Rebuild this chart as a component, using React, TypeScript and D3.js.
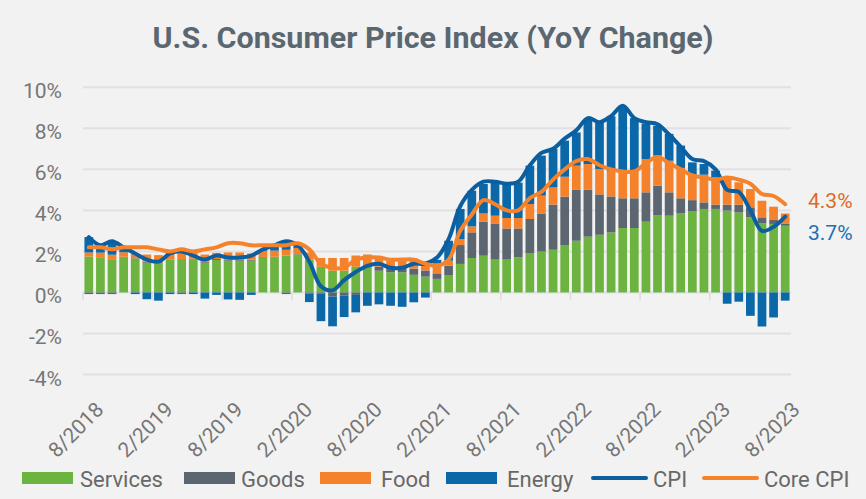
import * as d3 from "d3";
import React, {useRef, useEffect} from "react";

// monthly categories, 8/2018 .. 8/2023
const months = [
    "8/2018", "9/2018", "10/2018", "11/2018", "12/2018",
    "1/2019", "2/2019", "3/2019", "4/2019", "5/2019", "6/2019", "7/2019", "8/2019", "9/2019", "10/2019", "11/2019", "12/2019",
    "1/2020", "2/2020", "3/2020", "4/2020", "5/2020", "6/2020", "7/2020", "8/2020", "9/2020", "10/2020", "11/2020", "12/2020",
    "1/2021", "2/2021", "3/2021", "4/2021", "5/2021", "6/2021", "7/2021", "8/2021", "9/2021", "10/2021", "11/2021", "12/2021",
    "1/2022", "2/2022", "3/2022", "4/2022", "5/2022", "6/2022", "7/2022", "8/2022", "9/2022", "10/2022", "11/2022", "12/2022",
    "1/2023", "2/2023", "3/2023", "4/2023", "5/2023", "6/2023", "7/2023", "8/2023"
];

const tickLabels = ["8/2018", "2/2019", "8/2019", "2/2020", "8/2020", "2/2021", "8/2021", "2/2022", "8/2022", "2/2023", "8/2023"];

// contributions to YoY change (percentage points)
const services = [
    1.75, 1.72, 1.62, 1.72, 1.65,
    1.45, 1.42, 1.58, 1.63, 1.62, 1.45, 1.58, 1.55, 1.55, 1.55, 1.70, 1.72,
    1.80, 1.85, 1.60, 1.25, 1.06, 1.06, 1.25, 1.25, 1.06, 0.98, 0.98, 0.86,
    0.77, 0.66, 0.85, 1.39, 1.68, 1.79, 1.60, 1.60, 1.71, 1.90, 1.99, 2.08,
    2.31, 2.52, 2.72, 2.81, 2.93, 3.14, 3.14, 3.45, 3.77, 3.74, 3.85, 3.95,
    4.07, 4.07, 3.99, 3.90, 3.66, 3.37, 3.34, 3.25
];
const goods = [
    -0.08, -0.08, -0.08, 0.02, 0.02,
    0.05, 0.05, 0.02, -0.08, 0.02, 0.05, 0.05, 0.05, 0.05, 0.05, 0.03, 0.02,
    -0.08, 0.02, -0.05, -0.05, -0.20, -0.15, -0.12, 0.00, 0.20, 0.16, 0.20, 0.30,
    0.30, 0.27, 0.45, 0.92, 1.25, 1.66, 1.74, 1.52, 1.41, 1.68, 1.86, 2.20,
    2.36, 2.48, 2.28, 1.97, 1.75, 1.45, 1.45, 1.43, 1.43, 1.14, 0.74, 0.55,
    0.32, 0.21, 0.29, 0.38, 0.49, 0.29, 0.19, 0.09
];
const food = [
    0.20, 0.22, 0.22, 0.22, 0.22,
    0.35, 0.35, 0.30, 0.30, 0.28, 0.35, 0.30, 0.35, 0.35, 0.30, 0.30, 0.30,
    0.28, 0.30, 0.35, 0.43, 0.62, 0.62, 0.55, 0.60, 0.42, 0.52, 0.50, 0.50,
    0.45, 0.48, 0.25, 0.29, 0.29, 0.40, 0.40, 0.51, 0.51, 0.73, 0.87, 0.84,
    0.97, 1.18, 1.26, 1.24, 1.26, 1.38, 1.38, 1.62, 1.47, 1.54, 1.48, 1.24,
    1.35, 1.33, 1.25, 1.09, 0.89, 0.81, 0.65, 0.51
];
const energy = [
    0.75, 0.36, 0.66, 0.24, -0.08,
    -0.33, -0.40, -0.08, 0.13, -0.08, -0.30, -0.12, -0.34, -0.36, -0.12, 0.05, 0.25,
    0.45, 0.20, -0.42, -1.35, -1.45, -1.05, -0.85, -0.65, -0.58, -0.65, -0.70, -0.48,
    -0.25, 0.18, 0.97, 1.47, 1.74, 1.44, 1.66, 1.66, 1.72, 1.87, 1.95, 1.88,
    1.76, 1.62, 2.15, 2.32, 2.65, 3.05, 2.53, 1.74, 1.46, 1.31, 1.09, 0.60,
    0.52, 0.33, -0.55, -0.45, -1.14, -1.66, -1.22, -0.40
];
const cpi = [
    2.7, 2.3, 2.5, 2.2, 1.9,
    1.6, 1.5, 1.9, 2.0, 1.8, 1.6, 1.8, 1.7, 1.7, 1.8, 2.1, 2.3,
    2.5, 2.3, 1.5, 0.3, 0.1, 0.6, 1.0, 1.3, 1.4, 1.2, 1.2, 1.4,
    1.4, 1.7, 2.6, 4.2, 5.0, 5.4, 5.4, 5.3, 5.4, 6.2, 6.8, 7.0,
    7.5, 7.9, 8.5, 8.3, 8.6, 9.1, 8.5, 8.3, 8.2, 7.7, 7.1, 6.5,
    6.4, 6.0, 5.0, 4.9, 4.0, 3.0, 3.2, 3.7
];
const coreCpi = [
    2.2, 2.2, 2.1, 2.2, 2.2,
    2.2, 2.1, 2.0, 2.1, 2.0, 2.1, 2.2, 2.4, 2.4, 2.3, 2.3, 2.3,
    2.3, 2.4, 2.1, 1.4, 1.2, 1.2, 1.6, 1.7, 1.7, 1.6, 1.6, 1.6,
    1.4, 1.3, 1.6, 3.0, 3.8, 4.5, 4.3, 4.0, 4.0, 4.6, 4.9, 5.5,
    6.0, 6.4, 6.5, 6.2, 6.0, 5.9, 5.9, 6.3, 6.6, 6.3, 6.0, 5.7,
    5.6, 5.5, 5.6, 5.5, 5.3, 4.8, 4.7, 4.3
];

const yTicks = [-4, -2, 0, 2, 4, 6, 8, 10];
const seriesKeys = ["services", "goods", "food", "energy"];
const seriesNames = ["Services", "Goods", "Food", "Energy"];
const seriesColors = ["#6DB33F", "#5C6670", "#F5822A", "#0A67A8"];

const W = 866;
const H = 499;
const FONT = "Roboto, 'DejaVu Sans', sans-serif";
const LABEL = "#767676";

function CpiChart() {

    const ref = useRef<HTMLDivElement>(null);

    useEffect(() => {

        document.body.style.margin = "0";
        document.body.style.background = "#F2F2F2";

        const container = d3.select(ref.current);
        container.selectAll("*").remove();

        const svg = container.append("svg")
            .attr("width", W)
            .attr("height", H)
            .style("display", "block")
            .style("background", "#F2F2F2");

        const x = d3.scaleBand<string>()
            .domain(months)
            .range([83, 791])
            .paddingInner(0.25)
            .paddingOuter(0.125);

        const y = d3.scaleLinear()
            .domain([-4, 10])
            .range([374.5, 87.3]);

        const cx = (m: string) => (x(m) as number) + x.bandwidth() / 2;

        // title
        svg.append("text")
            .attr("x", W / 2)
            .attr("y", 48)
            .attr("text-anchor", "middle")
            .attr("font-family", FONT)
            .attr("font-weight", "bold")
            .attr("font-size", 30)
            .attr("fill", "#5B6770")
            .attr("textLength", 561)
            .attr("lengthAdjust", "spacingAndGlyphs")
            .text("U.S. Consumer Price Index (YoY Change)");

        // grid
        svg.append("g")
            .selectAll("line")
            .data(yTicks)
            .enter()
            .append("line")
            .attr("x1", 83)
            .attr("x2", 791)
            .attr("y1", d => y(d))
            .attr("y2", d => y(d))
            .attr("stroke", "#E0E0E6")
            .attr("stroke-width", 2);

        svg.append("g")
            .selectAll("text")
            .data(yTicks)
            .enter()
            .append("text")
            .attr("x", 62)
            .attr("y", d => y(d) + 11)
            .attr("text-anchor", "end")
            .attr("font-family", FONT)
            .attr("font-size", 21)
            .attr("fill", LABEL)
            .text(d => d + "%");

        // stacked bars
        const rows = months.map((m, i) => ({
            month: m,
            services: services[i],
            goods: goods[i],
            food: food[i],
            energy: energy[i],
        }));

        const stack = d3.stack<any>()
            .keys(seriesKeys)
            .offset(d3.stackOffsetDiverging);

        svg.append("g")
            .selectAll("g")
            .data(stack(rows))
            .enter()
            .append("g")
            .attr("fill", (d, i) => seriesColors[i])
            .selectAll("rect")
            .data(d => d)
            .enter()
            .append("rect")
            .attr("x", d => x(d.data.month) as number)
            .attr("width", x.bandwidth())
            .attr("y", d => y(Math.max(d[0], d[1])))
            .attr("height", d => Math.abs(y(d[0]) - y(d[1])));

        // category ticks every 6 months
        const step = x.step();
        svg.append("g")
            .selectAll("line")
            .data(tickLabels)
            .enter()
            .append("line")
            .attr("x1", d => cx(d) - step / 2)
            .attr("x2", d => cx(d) - step / 2)
            .attr("y1", y(0))
            .attr("y2", y(0) + 8)
            .attr("stroke", "#DCDCDC")
            .attr("stroke-width", 1.5);

        // lines
        const line = (vals: number[]) => d3.line<string>()
            .x(d => cx(d))
            .y((d, i) => y(vals[i]))
            .curve(d3.curveCatmullRom.alpha(0.5))(months);

        svg.append("path")
            .attr("d", line(cpi))
            .attr("fill", "none")
            .attr("stroke", "#0B5FA0")
            .attr("stroke-width", 4)
            .attr("stroke-linejoin", "round")
            .attr("stroke-linecap", "round");

        svg.append("path")
            .attr("d", line(coreCpi))
            .attr("fill", "none")
            .attr("stroke", "#F5832B")
            .attr("stroke-width", 4)
            .attr("stroke-linejoin", "round")
            .attr("stroke-linecap", "round");

        // end labels
        svg.append("text")
            .attr("x", 808)
            .attr("y", 208)
            .attr("font-family", FONT)
            .attr("font-size", 21)
            .attr("fill", "#DD6B1F")
            .text(coreCpi[coreCpi.length - 1].toFixed(1) + "%");

        svg.append("text")
            .attr("x", 808)
            .attr("y", 240)
            .attr("font-family", FONT)
            .attr("font-size", 21)
            .attr("fill", "#1C6FB2")
            .text(cpi[cpi.length - 1].toFixed(1) + "%");

        // x labels
        svg.append("g")
            .selectAll("text")
            .data(tickLabels)
            .enter()
            .append("text")
            .attr("transform", d => `translate(${cx(d) + 16}, 411) rotate(-45)`)
            .attr("text-anchor", "end")
            .attr("font-family", FONT)
            .attr("font-size", 21)
            .attr("fill", LABEL)
            .text(d => d);

        // legend
        const legend = svg.append("g").attr("class", "legend");
        const boxX = [22, 184, 320, 446];
        const textX = [80, 241, 381, 507];

        seriesNames.forEach((name, i) => {
            legend.append("rect")
                .attr("x", boxX[i])
                .attr("y", 472)
                .attr("width", 51)
                .attr("height", 12)
                .attr("fill", seriesColors[i]);
            legend.append("text")
                .attr("x", textX[i])
                .attr("y", 487)
                .attr("font-family", FONT)
                .attr("font-size", 22)
                .attr("fill", "#686868")
                .text(name);
        });

        const lineItems = [
            {name: "CPI", color: "#0B5FA0", x0: 593, tx: 653},
            {name: "Core CPI", color: "#F5832B", x0: 704, tx: 764},
        ];
        lineItems.forEach(d => {
            legend.append("line")
                .attr("x1", d.x0)
                .attr("x2", d.x0 + 53)
                .attr("y1", 478)
                .attr("y2", 478)
                .attr("stroke", d.color)
                .attr("stroke-width", 4)
                .attr("stroke-linecap", "round");
            legend.append("text")
                .attr("x", d.tx)
                .attr("y", 487)
                .attr("font-family", FONT)
                .attr("font-size", 22)
                .attr("fill", "#686868")
                .text(d.name);
        });

    }, []);

    return (
        <div className="Cpi-Chart" ref={ref} />
    );
}

export default function App() {
    return <CpiChart />;
}
